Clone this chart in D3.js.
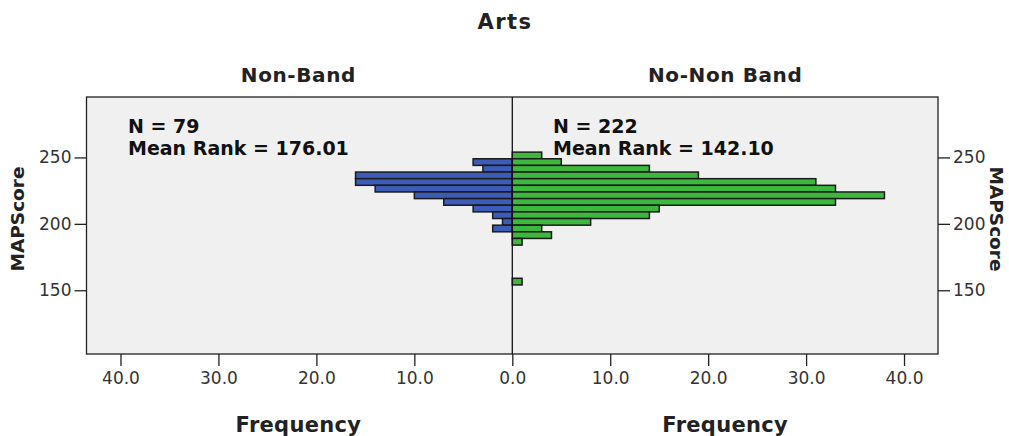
<!DOCTYPE html>
<html>
<head>
<meta charset="utf-8">
<script src="https://cdn.jsdelivr.net/npm/d3@7"></script>
<style>
  html, body { margin: 0; padding: 0; background: #ffffff; }
  svg { display: block; font-family: "DejaVu Sans", Verdana, sans-serif; }
</style>
</head>
<body>
<svg id="chart" width="1009" height="436"></svg>
<script>
// ---- data ----
const chartTitle = "Arts";
const panelNames = ["Non-Band", "No-Non Band"];
const binStarts = [249, 244, 239, 234, 229, 224, 219, 214, 209, 204, 199, 194, 189, 184, 179, 174, 169, 164, 159, 154];
const binWidth = 5;
const nonBandCounts   = [0, 4, 3, 16, 16, 14, 10, 7, 4, 2, 1, 2, 0, 0, 0, 0, 0, 0, 0, 0];
const noNonBandCounts = [3, 5, 14, 19, 31, 33, 38, 33, 15, 14, 8, 3, 4, 1, 0, 0, 0, 0, 0, 1];
const nLabels = ["N = 79", "N = 222"];
const meanRankLabels = ["Mean Rank = 176.01", "Mean Rank = 142.10"];
const freqTicks = [0, 10, 20, 30, 40];
const scoreTicks = [150, 200, 250];
const xAxisTitle = "Frequency";
const yAxisTitle = "MAPScore";

// ---- layout ----
const svg = d3.select("#chart");
const frame = { left: 86.5, right: 938, top: 97, bottom: 354 };
const mid = 512.3;
const xMax = 43.47;

const y = d3.scaleLinear().domain([102, 295.5]).range([frame.bottom, frame.top]);
const xL = d3.scaleLinear().domain([0, xMax]).range([mid, frame.left]);
const xR = d3.scaleLinear().domain([0, xMax]).range([mid, frame.right]);

// background
svg.append("rect")
  .attr("x", frame.left).attr("y", frame.top)
  .attr("width", frame.right - frame.left).attr("height", frame.bottom - frame.top)
  .attr("fill", "#f0f0f0");

// bars
const rows = binStarts.map((b, i) => ({ b, nb: nonBandCounts[i], nn: noNonBandCounts[i] }));
svg.append("g").selectAll("rect")
  .data(rows.filter(d => d.nb > 0))
  .join("rect")
  .attr("x", d => xL(d.nb))
  .attr("y", d => y(d.b + binWidth))
  .attr("width", d => xL(0) - xL(d.nb))
  .attr("height", d => y(d.b) - y(d.b + binWidth))
  .attr("fill", "#3c5cb8")
  .attr("stroke", "#1b1b1b")
  .attr("stroke-width", 1.5);

svg.append("g").selectAll("rect")
  .data(rows.filter(d => d.nn > 0))
  .join("rect")
  .attr("x", d => xR(0))
  .attr("y", d => y(d.b + binWidth))
  .attr("width", d => xR(d.nn) - xR(0))
  .attr("height", d => y(d.b) - y(d.b + binWidth))
  .attr("fill", "#3cb93c")
  .attr("stroke", "#1b1b1b")
  .attr("stroke-width", 1.5);

// frame
svg.append("rect")
  .attr("x", frame.left).attr("y", frame.top)
  .attr("width", frame.right - frame.left).attr("height", frame.bottom - frame.top)
  .attr("fill", "none").attr("stroke", "#222").attr("stroke-width", 1.3);
// center line
svg.append("line")
  .attr("x1", mid).attr("x2", mid)
  .attr("y1", frame.top).attr("y2", frame.bottom)
  .attr("stroke", "#111").attr("stroke-width", 1.3);

// x axes
function styleAxis(g) {
  g.select(".domain").remove();
  g.selectAll(".tick line").attr("stroke", "#222").attr("stroke-width", 1.3);
  g.selectAll(".tick text").attr("fill", "#333").attr("font-size", "17px")
    .attr("font-family", "DejaVu Sans, Verdana, sans-serif");
}
const fmt = d3.format(".1f");
svg.append("g")
  .attr("transform", `translate(0,${frame.bottom})`)
  .call(d3.axisBottom(xL).tickValues(freqTicks).tickFormat(fmt).tickSize(12).tickPadding(6))
  .call(styleAxis);
svg.append("g")
  .attr("transform", `translate(0,${frame.bottom})`)
  .call(d3.axisBottom(xR).tickValues(freqTicks.filter(v => v > 0)).tickFormat(fmt).tickSize(12).tickPadding(6))
  .call(styleAxis);

// y axes
svg.append("g")
  .attr("transform", `translate(${frame.left},0)`)
  .call(d3.axisLeft(y).tickValues(scoreTicks).tickFormat(d3.format("d")).tickSize(12).tickPadding(3))
  .call(styleAxis);
svg.append("g")
  .attr("transform", `translate(${frame.right},0)`)
  .call(d3.axisRight(y).tickValues(scoreTicks).tickFormat(d3.format("d")).tickSize(12).tickPadding(3))
  .call(styleAxis);

// title
svg.append("text")
  .attr("x", 505).attr("y", 29)
  .attr("text-anchor", "middle")
  .attr("font-size", "21px").attr("font-weight", "bold").attr("fill", "#222")
  .attr("letter-spacing", "1.5px")
  .text(chartTitle);

// panel names
const panelCenters = [(frame.left + mid) / 2 - 1, (mid + frame.right) / 2];
panelNames.forEach((p, i) => {
  svg.append("text")
    .attr("x", panelCenters[i]).attr("y", 82)
    .attr("text-anchor", "middle")
    .attr("font-size", "20px").attr("font-weight", "bold").attr("fill", "#222")
    .attr("letter-spacing", "0.6px")
    .text(p);
  svg.append("text")
    .attr("x", panelCenters[i]).attr("y", 432)
    .attr("text-anchor", "middle")
    .attr("font-size", "21px").attr("font-weight", "bold").attr("fill", "#222")
    .attr("letter-spacing", "0.3px")
    .text(xAxisTitle);
});

// annotations
const annX = [128, 553];
[0, 1].forEach(i => {
  svg.append("text")
    .attr("x", annX[i]).attr("y", 133)
    .attr("font-size", "19px").attr("font-weight", "bold").attr("fill", "#111")
    .text(nLabels[i]);
  svg.append("text")
    .attr("x", annX[i]).attr("y", 155)
    .attr("font-size", "19px").attr("font-weight", "bold").attr("fill", "#111")
    .text(meanRankLabels[i]);
});

// y axis titles
svg.append("text")
  .attr("transform", "translate(24,219) rotate(-90)")
  .attr("text-anchor", "middle")
  .attr("font-size", "18.5px").attr("font-weight", "bold").attr("fill", "#222")
  .text(yAxisTitle);
svg.append("text")
  .attr("transform", "translate(990,219) rotate(90)")
  .attr("text-anchor", "middle")
  .attr("font-size", "18.5px").attr("font-weight", "bold").attr("fill", "#222")
  .text(yAxisTitle);
</script>
</body>
</html>
